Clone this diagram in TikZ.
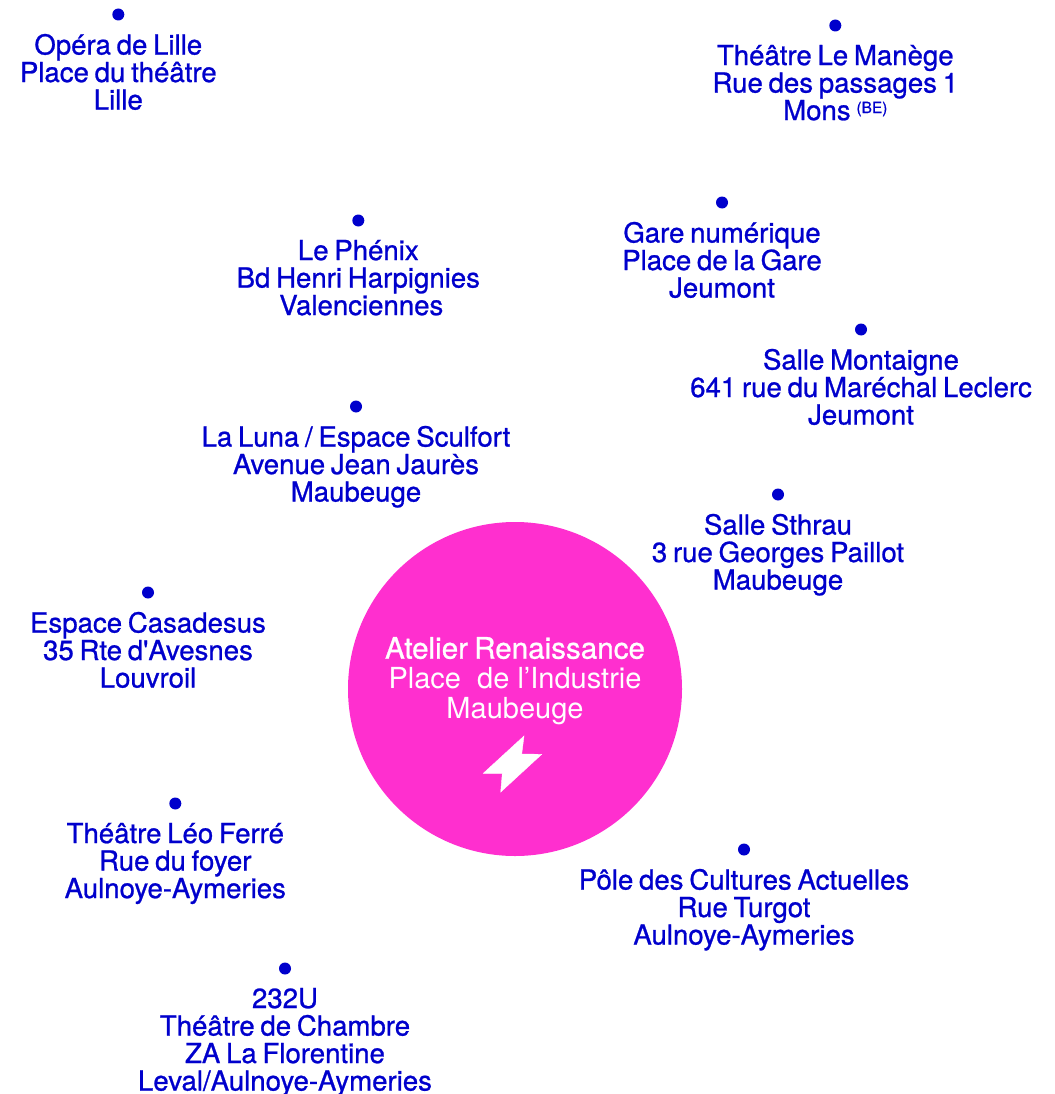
\documentclass[tikz,border=0pt]{standalone}
\usepackage{fontspec}
\usepackage{tikz}
\usetikzlibrary{positioning}
\setmainfont{TeX Gyre Heros}
\newfontfamily\venuefont[FakeBold=0.9,WordSpace=0.75]{TeX Gyre Heros}
\definecolor{venueblue}{HTML}{0000CC}
\definecolor{hubpink}{HTML}{FF2FCF}
\tikzset{
	venuedot/.style={circle, fill=venueblue, inner sep=0pt, minimum size=12pt},
	venue/.style={below=13pt of #1, text=venueblue, align=center, inner sep=0pt, font=\venuefont\fontsize{27.6}{27.5}\selectfont, execute at begin node=\strut},
}
\begin{document}
\begin{tikzpicture}[x=1pt, y=-1pt]
			\useasboundingbox (0,0) rectangle (1054,1094);
			\clip (0,0) rectangle (1054,1094);
			\node (hub) [circle, fill=hubpink, inner sep=0pt, minimum size=334pt] at (515,689) {};
			\node (hubtext) [text=white, align=center, inner sep=0pt, font=\fontsize{29}{30}\selectfont] at (515,681)
				{{\venuefont\fontsize{29.6}{30}\selectfont Atelier Renaissance}\\Place\ \ de l’Industrie\\Maubeuge};
			\filldraw[white] (524,736) -- (521.7,754) -- (541.7,754.3) -- (500.7,792) -- (502.3,773.3) -- (483.3,773.3) -- cycle;

			\node (opera) [venuedot] at (118.3,14.5) {};
			\node (manege) [venuedot] at (835.3,25.5) {};
			\node (phenix) [venuedot] at (358.3,220.5) {};
			\node (gare) [venuedot] at (722,202.5) {};
			\node (montaigne) [venuedot] at (861,329.5) {};
			\node (luna) [venuedot] at (356,406.5) {};
			\node (sthrau) [venuedot] at (778,494.5) {};
			\node (casadesus) [venuedot] at (148,592.5) {};
			\node (ferre) [venuedot] at (175.3,803.5) {};
			\node (pole) [venuedot] at (744,849.5) {};
			\node (chambre) [venuedot] at (285,968.5) {};

			\node (operatext) [venue=opera] {Opéra de Lille\\Place du théâtre\\Lille};
			\node (manegetext) [venue=manege] {Théâtre Le Manège\\Rue des passages 1\\Mons {\fontsize{15.5}{15.5}\selectfont\raisebox{7pt}{(BE)}}};
			\node (phenixtext) [venue=phenix] {Le Phénix\\Bd Henri Harpignies\\\hspace{6pt}Valenciennes};
			\node (garetext) [venue=gare] {Gare numérique\\Place de la Gare\\Jeumont};
			\node (montaignetext) [venue=montaigne] {Salle Montaigne\\641 rue du Maréchal Leclerc\\Jeumont};
			\node (lunatext) [venue=luna] {La Luna / Espace Sculfort\\Avenue Jean Jaurès\\Maubeuge};
			\node (sthrautext) [venue=sthrau] {Salle Sthrau\\3 rue Georges Paillot\\Maubeuge};
			\node (casadesustext) [venue=casadesus] {Espace Casadesus\\35 Rte d'Avesnes\\Louvroil};
			\node (ferretext) [venue=ferre] {Théâtre Léo Ferré\\Rue du foyer\\Aulnoye-Aymeries};
			\node (poletext) [venue=pole] {Pôle des Cultures Actuelles\\Rue Turgot\\Aulnoye-Aymeries};
			\node (chambretext) [venue=chambre] {232U\\Théâtre de Chambre\\ZA La Florentine\\Leval/Aulnoye-Aymeries};
		\end{tikzpicture}
\end{document}
